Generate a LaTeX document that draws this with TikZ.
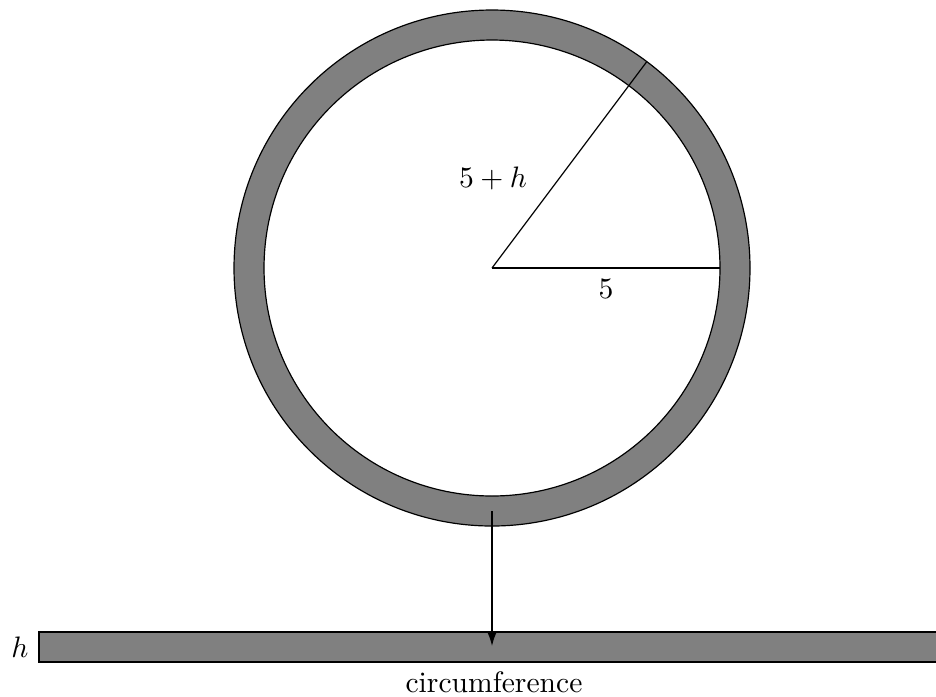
\documentclass[tikz,border=0pt]{standalone}
\usetikzlibrary{arrows.meta}
\begin{document}
\begin{tikzpicture}[x=0.338pt,y=-0.338pt,
  ring/.style={fill=gray,even odd rule},
  edgeline/.style={draw=black,line width=0.4pt},
  lbl/.style={inner sep=0pt,outer sep=0pt}]
\clip (0,0) rectangle (936,696);
\useasboundingbox (0,0) rectangle (936,696);
\coordinate (c) at (492,268);
% ring
\fill[ring] (c) circle[radius=87.2pt] (c) circle[radius=77.06pt];
\draw[edgeline] (c) circle[radius=87.2pt];
\draw[edgeline] (c) circle[radius=77.06pt];
% radii
\path (c) ++(53.13:87.2pt) coordinate (o);
\path (c) ++(0:77.06pt) coordinate (i);
\draw[edgeline] (c) -- (o);
\draw[edgeline] (c) -- (i);
\node[lbl] (lo) at (493,178) {$5+h$};
\node[lbl] (li) at (606,289) {$5$};
% unrolled strip
\draw[edgeline,fill=gray] (39,632) rectangle (1000,662);
\coordinate (stripmid) at (492,646);
\node[lbl] (lh) at (20,647) {$h$};
\node[lbl] (lc) at (494,682) {circumference};
% arrow
\coordinate (start) at (492,511);
\draw[edgeline,-{Latex[length=4.5pt,width=3pt]}] (start) -- (stripmid);
\end{tikzpicture}
\end{document}
